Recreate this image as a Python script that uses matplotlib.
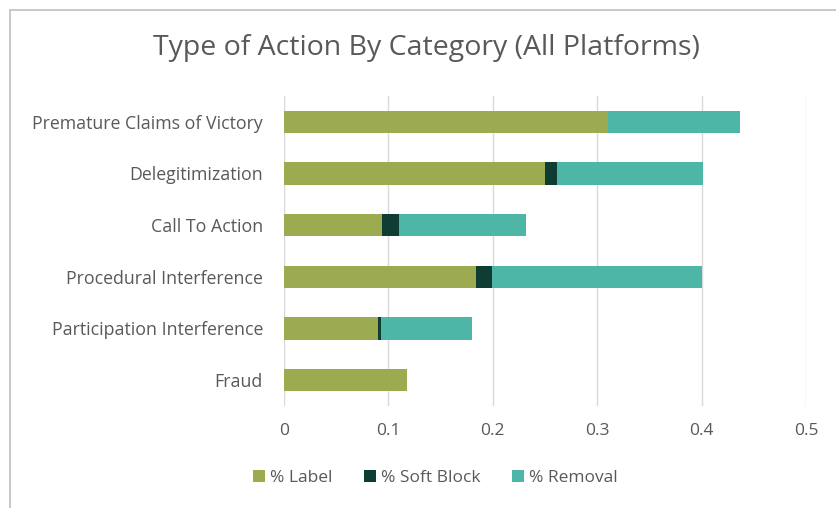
import matplotlib.pyplot as plt
import numpy as np
from matplotlib.patches import Rectangle

# Datos
categorias = [
    "Premature Claims of Victory", "Delegitimization", "Call To Action",
    "Procedural Interference", "Participation Interference", "Fraud",
]
pct_label = [0.310, 0.250, 0.094, 0.184, 0.090, 0.118]
pct_soft_block = [0.000, 0.012, 0.016, 0.015, 0.003, 0.000]
pct_removal = [0.127, 0.139, 0.122, 0.201, 0.087, 0.000]
ticks_x = [0, 0.1, 0.2, 0.3, 0.4, 0.5]

colores = ["#9CAB50", "#0F3D34", "#4DB6A7"]
nombres = ["% Label", "% Soft Block", "% Removal"]
gris = "#595959"

plt.rcParams['font.family'] = ['Open Sans', 'DejaVu Sans']

fig = plt.figure(figsize=(8.37, 5.08), dpi=100)
ax = fig.add_axes([0.339, 0.201, 0.624, 0.610])

y = np.arange(len(categorias))
izq = np.zeros(len(categorias))
for vals, color, nombre in zip([pct_label, pct_soft_block, pct_removal], colores, nombres):
    ax.barh(y, vals, left=izq, height=0.43, color=color, label=nombre, zorder=3)
    izq = izq + np.array(vals)

ax.set_ylim(len(categorias) - 0.5, -0.5)
ax.set_xlim(0, 0.5)
ax.set_yticks(y)
ax.set_yticklabels(categorias, fontsize=12.8, color=gris)
ax.set_xticks(ticks_x)
ax.set_xticklabels([str(t) for t in ticks_x], fontsize=12.5, color=gris)
ax.tick_params(length=0)
ax.tick_params(axis='x', pad=12)
ax.tick_params(axis='y', pad=15)
ax.grid(axis='x', color="#D9D9D9", linewidth=1, zorder=0)
for s in ax.spines.values():
    s.set_visible(False)

fig.text(0.51, 0.905, "Type of Action By Category (All Platforms)",
         ha='center', va='center', fontsize=20.5, color=gris)

ax.legend(loc='center', bbox_to_anchor=(0.52, 0.059), bbox_transform=fig.transFigure,
          ncol=3, frameon=False, fontsize=12.5, labelcolor=gris,
          handlelength=0.7, handleheight=0.7, handletextpad=0.3, columnspacing=1.8)

# borde del area del grafico
fig.patches.append(Rectangle((10 / 837, -0.01), 1.0, 1 - 10 / 508 + 0.01,
                             transform=fig.transFigure, fill=False,
                             edgecolor="#BFBFBF", linewidth=1.2))

fig.savefig("out.png", dpi=100)
